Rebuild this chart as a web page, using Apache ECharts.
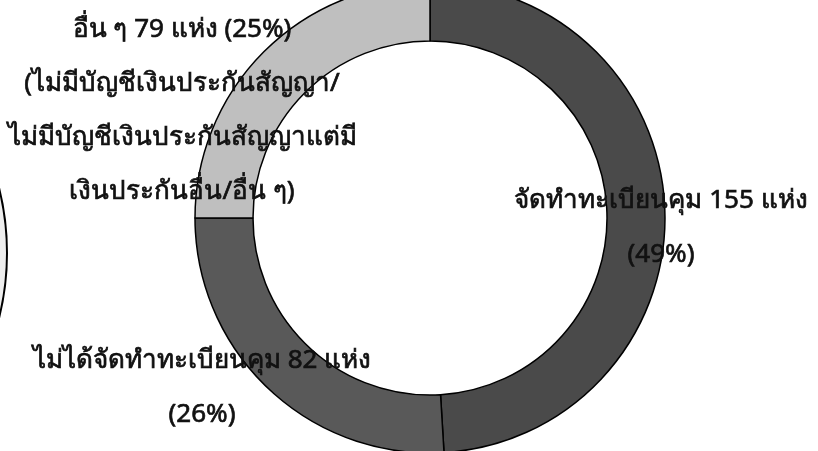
<!DOCTYPE html>
<html>
<head>
<meta charset="utf-8">
<script src="https://cdn.jsdelivr.net/npm/echarts@6/dist/echarts.min.js"></script>
<style>html,body{margin:0;padding:0;background:#fff;}#c{width:818px;height:451px;}</style>
</head>
<body>
<div id="c"></div>
<script>
// Data
const categories = ['จัดทำทะเบียนคุม', 'ไม่ได้จัดทำทะเบียนคุม', 'อื่น ๆ'];
const values = [155, 82, 79];
const unit = 'แห่ง';
const notes = ['', '', '(ไม่มีบัญชีเงินประกันสัญญา/\nไม่มีบัญชีเงินประกันสัญญาแต่มี\nเงินประกันอื่น/อื่น ๆ)'];
const colors = ['#4a4a4a', '#595959', '#bfbfbf'];

// label anchor positions (text block centres)
const labelPos = [[661, 228], [202, 388], [182, 111]];

const chart = echarts.init(document.getElementById('c'), null, {renderer: 'canvas'});
chart.setOption({
  animation: false,
  series: [
    {
      type: 'pie',
      silent: true,
      center: [-262, 253],
      radius: 269,
      itemStyle: {color: '#eeeeee', borderColor: '#000', borderWidth: 2},
      label: {show: false},
      labelLine: {show: false},
      data: [{value: 1, name: ''}]
    },
    {
      type: 'pie',
      center: [430, 218],
      radius: [177, 235],
      startAngle: 90,
      clockwise: true,
      percentPrecision: 0,
      avoidLabelOverlap: false,
      itemStyle: {borderColor: '#000', borderWidth: 1.5},
      label: {
        show: true,
        position: 'outside',
        fontFamily: 'Noto Sans, sans-serif',
        fontSize: 26,
        fontWeight: 'normal',
        lineHeight: 54,
        color: '#111111',
        textBorderColor: '#111111',
        textBorderWidth: 0.7,
        align: 'center',
        verticalAlign: 'middle',
        formatter: function (p) {
          const i = p.dataIndex;
          if (notes[i]) {
            return p.name + ' ' + p.value + ' ' + unit + ' (' + p.percent + '%)\n' + notes[i];
          }
          return p.name + ' ' + p.value + ' ' + unit + '\n(' + p.percent + '%)';
        }
      },
      labelLine: {show: false},
      labelLayout: function (params) {
        const pos = labelPos[params.dataIndex];
        return {x: pos[0], y: pos[1], align: 'center', verticalAlign: 'middle'};
      },
      data: categories.map(function (c, i) {
        return {name: c, value: values[i], itemStyle: {color: colors[i]}};
      })
    }
  ]
});
</script>
</body>
</html>
